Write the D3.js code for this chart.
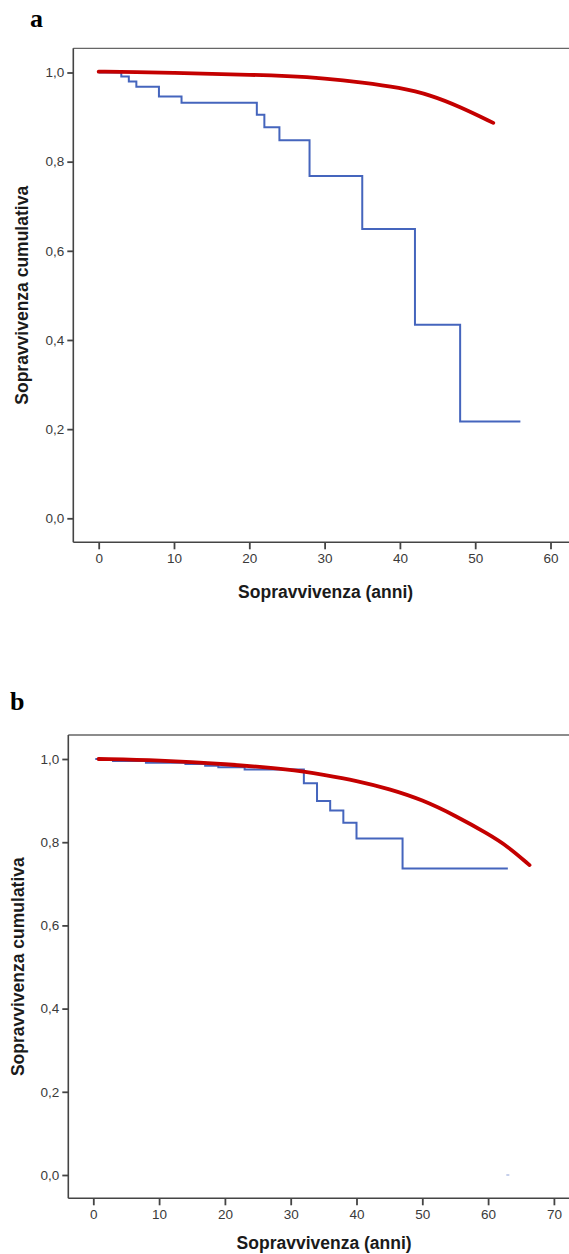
<!DOCTYPE html>
<html><head><meta charset="utf-8">
<script src="https://cdn.jsdelivr.net/npm/d3@7"></script>
<style>
html,body{margin:0;padding:0;background:#fff;}
svg{display:block;}
</style></head>
<body>
<svg id="chart" width="569" height="1254"></svg>
<script>
// ---------- DATA ----------
const yTicks = [0, 0.2, 0.4, 0.6, 0.8, 1.0];
const xTicksA = [0, 10, 20, 30, 40, 50, 60];
const xTicksB = [0, 10, 20, 30, 40, 50, 60, 70];

// Panel a - observed (blue step)
const aBlueTimes = [0, 3, 4, 5, 8, 11, 21, 22, 24, 28, 35, 42, 48];
const aBlueSurv  = [1.0, 0.991, 0.980, 0.968, 0.946, 0.932, 0.905, 0.877, 0.848, 0.768, 0.649, 0.434, 0.217];
const aBlueEnd = 56;
// Panel a - expected (red curve)
const aRedTimes = [0, 5, 10, 15, 20, 25, 30, 35, 40, 44, 48, 52.4];
const aRedSurv  = [1.002, 1.001, 0.999, 0.997, 0.995, 0.992, 0.987, 0.978, 0.966, 0.950, 0.923, 0.887];

// Panel b - observed (blue step)
const bBlueTimes = [0.3, 3, 8, 14, 17, 19, 23, 32, 34, 36, 38, 40, 47];
const bBlueSurv  = [1.0, 0.995, 0.991, 0.988, 0.984, 0.980, 0.975, 0.942, 0.899, 0.876, 0.847, 0.809, 0.737];
const bBlueEnd = 63;
const bBlueMarkTimes = [63];
const bBlueMarkSurv = [0];
// Panel b - expected (red curve)
const bRedTimes = [0.8, 10, 20, 30, 35, 40, 45, 50, 55, 60, 63, 66.3];
const bRedSurv  = [1.0, 0.997, 0.988, 0.975, 0.962, 0.948, 0.928, 0.902, 0.864, 0.820, 0.790, 0.745];

const xTitle = "Sopravvivenza (anni)";
const yTitle = "Sopravvivenza cumulativa";

// ---------- DRAW ----------
const svg = d3.select("#chart");
const blue = "#4565bd", red = "#c40000", axisCol = "#444";
const fmt = d => d3.format(".1f")(d).replace(".", ",");

function panel(o) {
  const g = svg.append("g");
  const x = d3.scaleLinear().domain(o.xDom).range(o.xRange);
  const y = d3.scaleLinear().domain([0, 1]).range(o.yRange);

  // frame: top line
  g.append("line").attr("x1", o.left).attr("x2", o.right).attr("y1", o.top).attr("y2", o.top)
    .attr("stroke", "#666").attr("stroke-width", 1.3);

  // y axis
  const ya = g.append("g").attr("transform", `translate(${o.left},0)`)
    .call(d3.axisLeft(y).tickValues(yTicks).tickFormat(fmt).tickSize(6).tickPadding(3).tickSizeOuter(0));
  ya.select(".domain").remove();
  g.append("line").attr("x1", o.left).attr("x2", o.left).attr("y1", o.top).attr("y2", o.bottom)
    .attr("stroke", axisCol).attr("stroke-width", 1.6);

  // x axis
  const xa = g.append("g").attr("transform", `translate(0,${o.bottom})`)
    .call(d3.axisBottom(x).tickValues(o.xTicks).tickFormat(d3.format("d")).tickSize(7).tickPadding(4).tickSizeOuter(0));
  xa.select(".domain").remove();
  g.append("line").attr("x1", o.left).attr("x2", o.right).attr("y1", o.bottom).attr("y2", o.bottom)
    .attr("stroke", axisCol).attr("stroke-width", 1.6);

  [ya, xa].forEach(a => {
    a.selectAll(".tick line").attr("stroke", axisCol).attr("stroke-width", 1.8);
    a.selectAll(".tick text").attr("fill", "#3a3a3a").attr("font-family", "Liberation Sans, Arial, sans-serif").attr("font-size", 13.5);
  });

  // titles
  g.append("text").attr("x", (o.left + o.right) / 2).attr("y", o.xTitleY)
    .attr("text-anchor", "middle").attr("font-family", "Liberation Sans, Arial, sans-serif")
    .attr("font-weight", "bold").attr("font-size", 17.5).attr("fill", "#1a1a1a").text(xTitle);
  g.append("text").attr("transform", `translate(${o.yTitleX},${(o.top + o.bottom) / 2}) rotate(-90)`)
    .attr("text-anchor", "middle").attr("font-family", "Liberation Sans, Arial, sans-serif")
    .attr("font-weight", "bold").attr("font-size", 17.5).attr("fill", "#1a1a1a").text(yTitle);

  // panel letter
  g.append("text").attr("x", o.letterX).attr("y", o.letterY)
    .attr("font-family", "Liberation Serif, Times New Roman, serif").attr("font-weight", "bold")
    .attr("font-size", 26).attr("fill", "#000").text(o.letter);

  // blue step
  const stepPts = o.bT.map((t, i) => [t, o.bS[i]]);
  stepPts.push([o.bEnd, o.bS[o.bS.length - 1]]);
  const stepLine = d3.line().x(d => x(d[0])).y(d => y(d[1])).curve(d3.curveStepAfter);
  g.append("path").attr("d", stepLine(stepPts)).attr("fill", "none")
    .attr("stroke", blue).attr("stroke-width", 2);

  if (o.mT) {
    o.mT.forEach((t, i) => {
      g.append("line").attr("x1", x(t) - 1.5).attr("x2", x(t) + 1.5)
        .attr("y1", y(o.mS[i])).attr("y2", y(o.mS[i]))
        .attr("stroke", blue).attr("stroke-width", 1).attr("opacity", 0.6);
    });
  }

  // red curve
  const redPts = o.rT.map((t, i) => [t, o.rS[i]]);
  const redLine = d3.line().x(d => x(d[0])).y(d => y(d[1])).curve(d3.curveBasis);
  g.append("path").attr("d", redLine(redPts)).attr("fill", "none")
    .attr("stroke", red).attr("stroke-width", 3.8).attr("stroke-linecap", "round");
}

panel({
  letter: "a", letterX: 30, letterY: 27,
  xDom: [0, 60], xRange: [98.7, 550.5], yRange: [518.3, 72.5],
  left: 73.3, right: 578, top: 48.3, bottom: 542.3,
  xTicks: xTicksA, xTitleY: 598, yTitleX: 28,
  bT: aBlueTimes, bS: aBlueSurv, bEnd: aBlueEnd,
  rT: aRedTimes, rS: aRedSurv
});

panel({
  letter: "b", letterX: 10, letterY: 710,
  xDom: [0, 70], xRange: [93.3, 553.9], yRange: [1175, 759],
  left: 68.3, right: 580, top: 735, bottom: 1198.3,
  xTicks: xTicksB, xTitleY: 1249, yTitleX: 24,
  bT: bBlueTimes, bS: bBlueSurv, bEnd: bBlueEnd,
  mT: bBlueMarkTimes, mS: bBlueMarkSurv,
  rT: bRedTimes, rS: bRedSurv
});
</script>
</body></html>
